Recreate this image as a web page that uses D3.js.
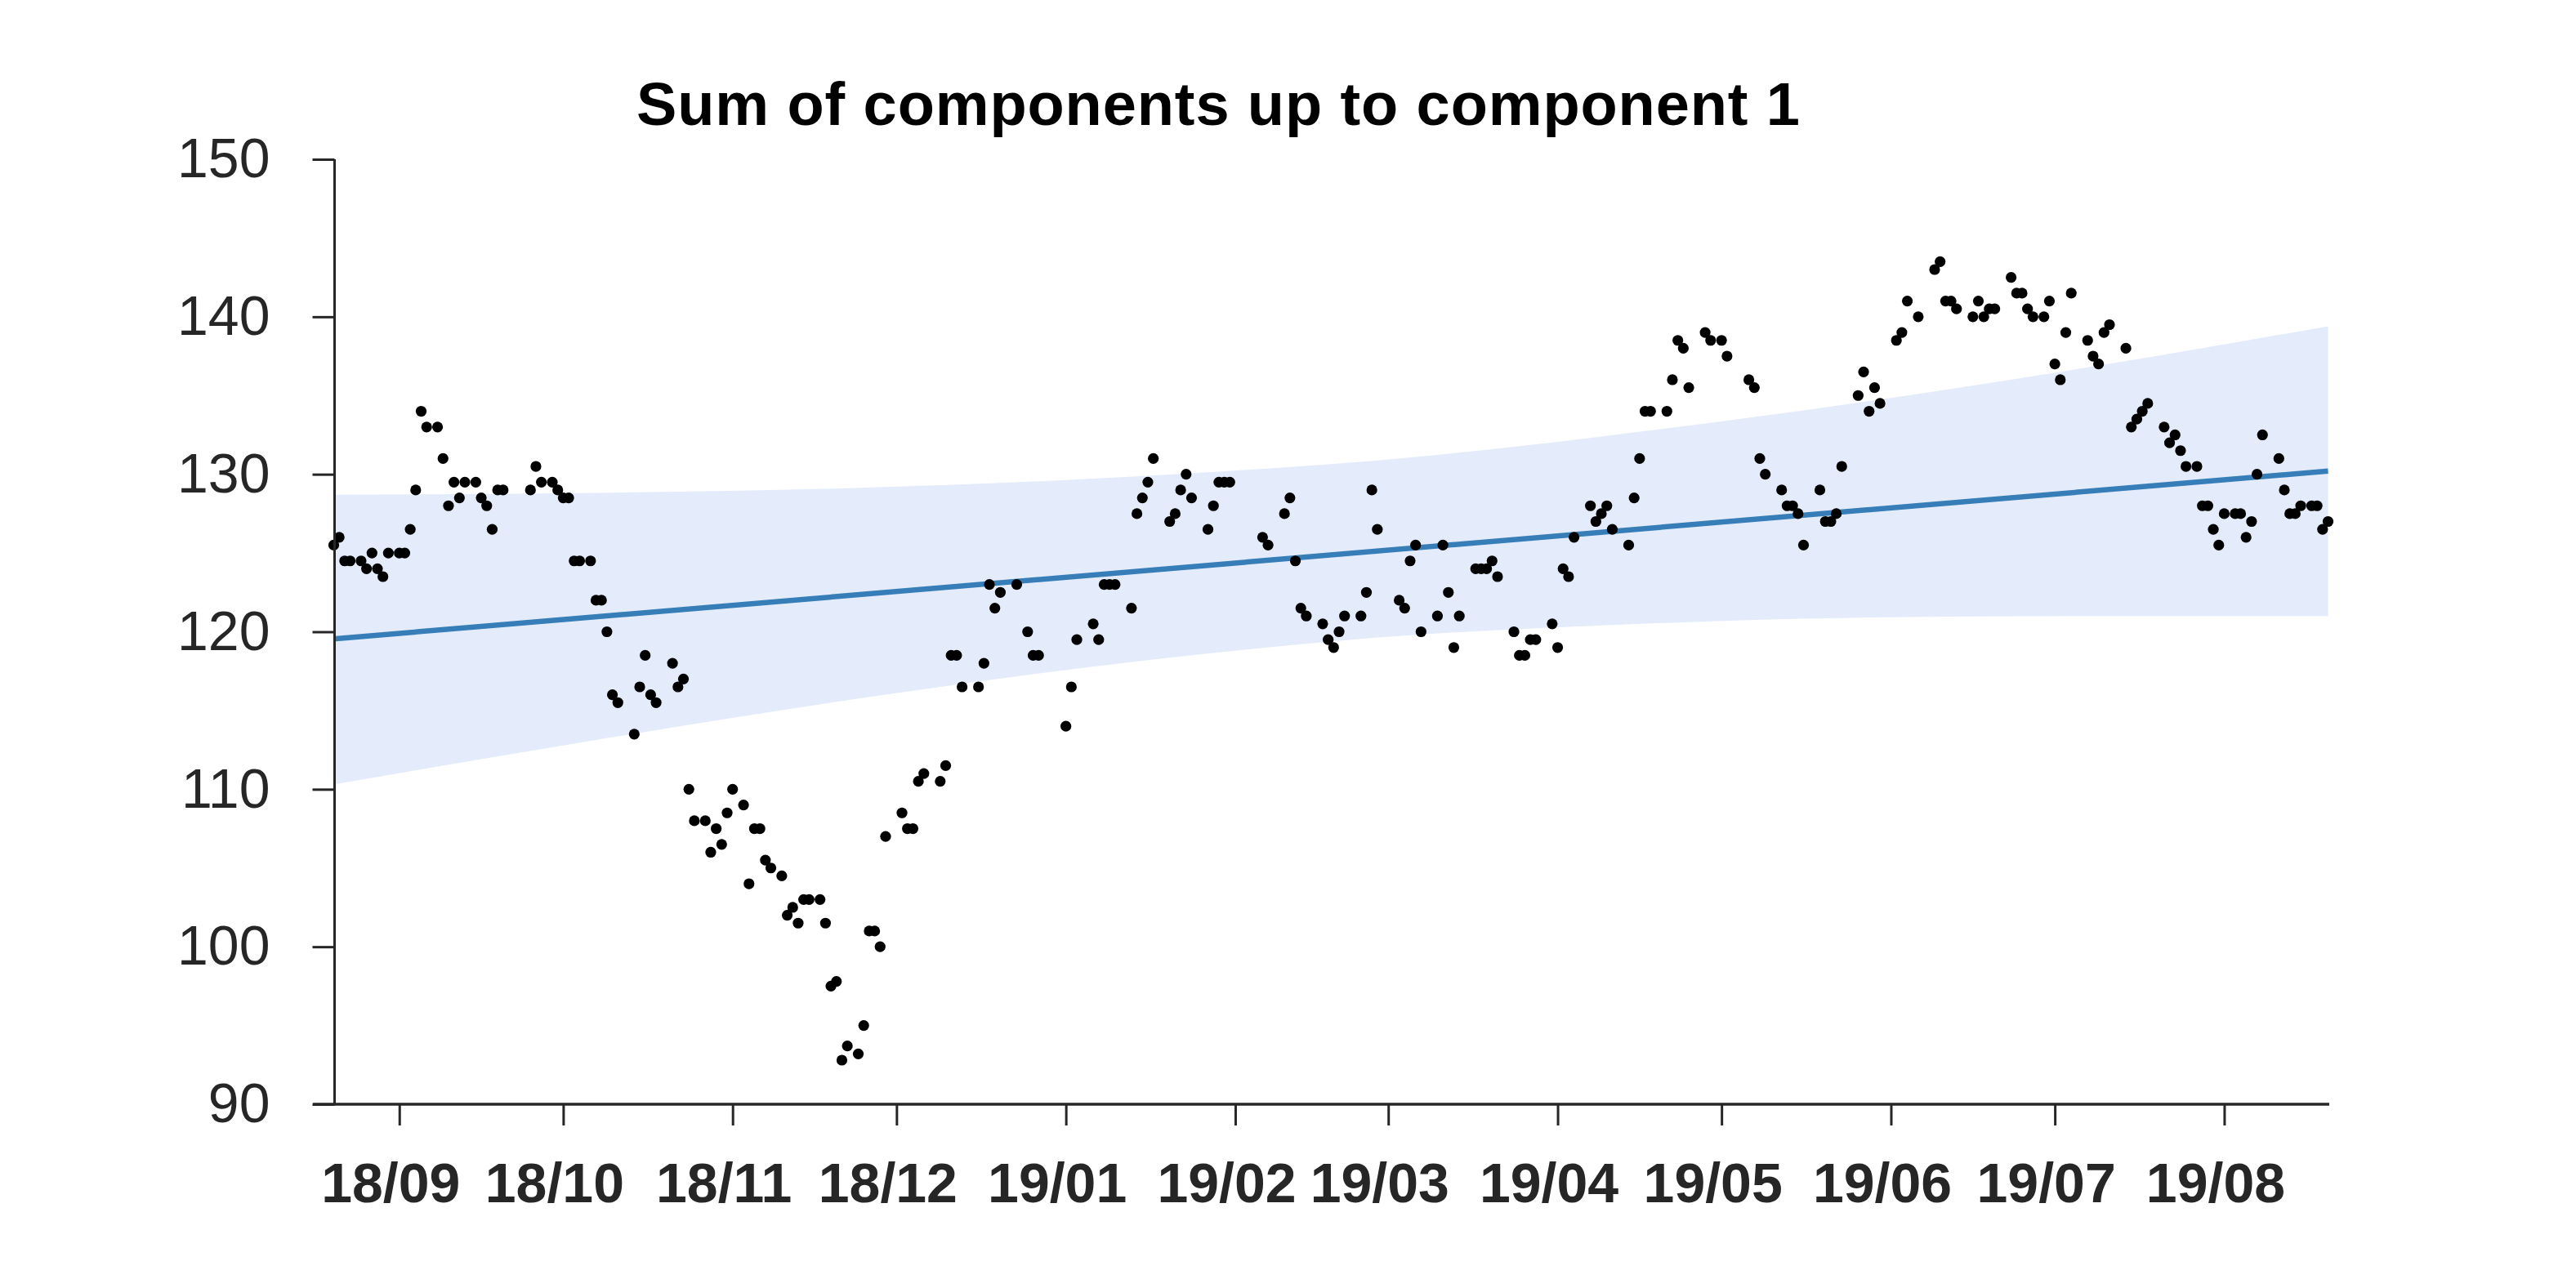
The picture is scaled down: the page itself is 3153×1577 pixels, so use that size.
<!DOCTYPE html>
<html><head><meta charset="utf-8">
<script src="https://cdn.jsdelivr.net/npm/d3@7"></script>
<style>html,body{margin:0;padding:0;background:#fff;}</style>
</head><body>
<svg id="chart" width="3153" height="1577"></svg>
<script>
const chartTitle = "Sum of components up to component 1";

const dates = [
"2018-08-20","2018-08-21","2018-08-22","2018-08-23","2018-08-25","2018-08-26","2018-08-27","2018-08-28","2018-08-29","2018-08-30",
"2018-09-01","2018-09-02","2018-09-03","2018-09-04","2018-09-05","2018-09-06","2018-09-08","2018-09-09","2018-09-10","2018-09-11",
"2018-09-12","2018-09-13","2018-09-15","2018-09-16","2018-09-17","2018-09-18","2018-09-19","2018-09-20","2018-09-25","2018-09-26",
"2018-09-27","2018-09-29","2018-09-30","2018-10-01","2018-10-02","2018-10-03","2018-10-04","2018-10-06","2018-10-07","2018-10-08",
"2018-10-09","2018-10-10","2018-10-11","2018-10-14","2018-10-15","2018-10-16","2018-10-17","2018-10-18","2018-10-21","2018-10-22",
"2018-10-23","2018-10-24","2018-10-25","2018-10-27","2018-10-28","2018-10-29","2018-10-30","2018-10-31","2018-11-01","2018-11-03",
"2018-11-04","2018-11-05","2018-11-06","2018-11-07","2018-11-08","2018-11-10","2018-11-11","2018-11-12","2018-11-13","2018-11-14",
"2018-11-15","2018-11-17","2018-11-18","2018-11-19","2018-11-20","2018-11-21","2018-11-22","2018-11-24","2018-11-25","2018-11-26",
"2018-11-27","2018-11-28","2018-11-29","2018-12-02","2018-12-03","2018-12-04","2018-12-05","2018-12-06","2018-12-09","2018-12-10",
"2018-12-11","2018-12-12","2018-12-13","2018-12-16","2018-12-17","2018-12-18","2018-12-19","2018-12-20","2018-12-23","2018-12-25",
"2018-12-26","2018-12-27","2019-01-01","2019-01-02","2019-01-03","2019-01-06","2019-01-07","2019-01-08","2019-01-09","2019-01-10",
"2019-01-13","2019-01-14","2019-01-15","2019-01-16","2019-01-17","2019-01-20","2019-01-21","2019-01-22","2019-01-23","2019-01-24",
"2019-01-27","2019-01-28","2019-01-29","2019-01-30","2019-01-31","2019-02-06","2019-02-07","2019-02-10","2019-02-11","2019-02-12",
"2019-02-13","2019-02-14","2019-02-17","2019-02-18","2019-02-19","2019-02-20","2019-02-21","2019-02-24","2019-02-25","2019-02-26",
"2019-02-27","2019-03-03","2019-03-04","2019-03-05","2019-03-06","2019-03-07","2019-03-10","2019-03-11","2019-03-12","2019-03-13",
"2019-03-14","2019-03-17","2019-03-18","2019-03-19","2019-03-20","2019-03-21","2019-03-24","2019-03-25","2019-03-26","2019-03-27",
"2019-03-28","2019-03-31","2019-04-01","2019-04-02","2019-04-03","2019-04-04","2019-04-07","2019-04-08","2019-04-09","2019-04-10",
"2019-04-11","2019-04-14","2019-04-15","2019-04-16","2019-04-17","2019-04-18","2019-04-21","2019-04-22","2019-04-23","2019-04-24",
"2019-04-25","2019-04-28","2019-04-29","2019-05-01","2019-05-02","2019-05-06","2019-05-07","2019-05-08","2019-05-09","2019-05-12",
"2019-05-13","2019-05-14","2019-05-15","2019-05-16","2019-05-19","2019-05-20","2019-05-21","2019-05-22","2019-05-23","2019-05-26",
"2019-05-27","2019-05-28","2019-05-29","2019-05-30","2019-06-02","2019-06-03","2019-06-04","2019-06-06","2019-06-09","2019-06-10",
"2019-06-11","2019-06-12","2019-06-13","2019-06-16","2019-06-17","2019-06-18","2019-06-19","2019-06-20","2019-06-23","2019-06-24",
"2019-06-25","2019-06-26","2019-06-27","2019-06-29","2019-06-30","2019-07-01","2019-07-02","2019-07-03","2019-07-04","2019-07-07",
"2019-07-08","2019-07-09","2019-07-10","2019-07-11","2019-07-14","2019-07-15","2019-07-16","2019-07-17","2019-07-18","2019-07-21",
"2019-07-22","2019-07-23","2019-07-24","2019-07-25","2019-07-27","2019-07-28","2019-07-29","2019-07-30","2019-07-31","2019-08-01",
"2019-08-03","2019-08-04","2019-08-05","2019-08-06","2019-08-07","2019-08-08","2019-08-11","2019-08-12","2019-08-13","2019-08-14",
"2019-08-15","2019-08-17","2019-08-18","2019-08-19","2019-08-20"
];

const values = [
125.5,126,124.5,124.5,124.5,124,125,124,123.5,125,
125,125,126.5,129,134,133,133,131,128,129.5,
128.5,129.5,129.5,128.5,128,126.5,129,129,129,130.5,
129.5,129.5,129,128.5,128.5,124.5,124.5,124.5,122,122,
120,116,115.5,113.5,116.5,118.5,116,115.5,118,116.5,
117,110,108,108,106,107.5,106.5,108.5,110,109,
104,107.5,107.5,105.5,105,104.5,102,102.5,101.5,103,
103,103,101.5,97.5,97.8,92.8,93.7,93.2,95,101,
101,100,107,108.5,107.5,107.5,110.5,111,110.5,111.5,
118.5,118.5,116.5,116.5,118,123,121.5,122.5,123,120,
118.5,118.5,114,116.5,119.5,120.5,119.5,123,123,123,
121.5,127.5,128.5,129.5,131,127,127.5,129,130,128.5,
126.5,128,129.5,129.5,129.5,126,125.5,127.5,128.5,124.5,
121.5,121,120.5,119.5,119,120,121,121,122.5,129,
126.5,122,121.5,124.5,125.5,120,121,125.5,122.5,119,
121,124,124,124,124.5,123.5,120,118.5,118.5,119.5,
119.5,120.5,119,124,123.5,126,128,127,127.5,128,
126.5,125.5,128.5,131,134,134,134,136,138.5,138,
135.5,139,138.5,138.5,137.5,136,135.5,131,130,129,
128,128,127.5,125.5,129,127,127,127.5,130.5,135,
136.5,134,135.5,134.5,138.5,139,141,140,143,143.5,
141,141,140.5,140,141,140,140.5,140.5,142.5,141.5,
141.5,140.5,140,140,141,137,136,139,141.5,138.5,
137.5,137,139,139.5,138,133,133.5,134,134.5,133,
132,132.5,131.5,130.5,130.5,128,128,126.5,125.5,127.5,
127.5,127.5,126,127,130,132.5,131,129,127.5,127.5,
128,128,128,126.5,127
];

const trendDates = ["2018-08-20", "2019-08-20"];
const trendValues = [119.55, 130.2];

const bandDates = ["2018-08-20","2018-10-03","2018-11-21","2019-01-16","2019-03-06","2019-04-09","2019-05-27","2019-07-09","2019-08-20"];
const bandUpper = [128.7, 128.8, 129.1, 129.9, 131.1, 132.4, 134.6, 136.9, 139.4];
const bandLower = [110.3, 112.9, 115.6, 118.2, 119.8, 120.4, 120.9, 121.0, 121.0];

const yTicks = [90, 100, 110, 120, 130, 140, 150];
const xTickDates = ["2018-09-01","2018-10-01","2018-11-01","2018-12-01","2019-01-01","2019-02-01","2019-03-01","2019-04-01","2019-05-01","2019-06-01","2019-07-01","2019-08-01"];
const xTickLabels = ["18/09","18/10","18/11","18/12","19/01","19/02","19/03","19/04","19/05","19/06","19/07","19/08"];

const parse = d3.timeParse("%Y-%m-%d");
const svg = d3.select("#chart");
const axisColor = "#262626";
const font = "'Liberation Sans', Arial, Helvetica, sans-serif";

const x = d3.scaleTime()
  .domain([parse("2018-08-20"), parse("2019-08-20")])
  .range([408.5, 2849.5]);
const y = d3.scaleLinear().domain([90, 150]).range([1352, 195]);

svg.append("rect").attr("width", 3153).attr("height", 1577).attr("fill", "#fff");

// confidence band
const bandData = bandDates.map((d, i) => ({ date: parse(d), lo: bandLower[i], hi: bandUpper[i] }));
svg.append("path")
  .datum(bandData)
  .attr("fill", "#e4ecfb")
  .attr("stroke", "none")
  .attr("d", d3.area().curve(d3.curveMonotoneX)
    .x(d => x(d.date)).y0(d => y(d.lo)).y1(d => y(d.hi)));

// trend line
const trendData = trendDates.map((d, i) => ({ date: parse(d), v: trendValues[i] }));
svg.append("path")
  .datum(trendData)
  .attr("fill", "none")
  .attr("stroke", "#377eb8")
  .attr("stroke-width", 6.5)
  .attr("d", d3.line().x(d => x(d.date)).y(d => y(d.v)));

// dots
const points = dates.map((d, i) => ({ date: parse(d), v: values[i] }));
svg.append("g").selectAll("circle").data(points).join("circle")
  .attr("cx", d => x(d.date))
  .attr("cy", d => y(d.v))
  .attr("r", 6.6)
  .attr("fill", "#000");

// y axis
const yAxis = svg.append("g")
  .attr("transform", "translate(409.5,0)")
  .call(d3.axisLeft(y).tickValues(yTicks).tickSize(27).tickPadding(52).tickFormat(d3.format("d")));
yAxis.select(".domain").remove();
yAxis.selectAll(".tick line").attr("stroke", axisColor).attr("stroke-width", 3);
yAxis.selectAll(".tick text")
  .attr("fill", axisColor)
  .style("font-family", font)
  .style("font-size", "68px");
svg.append("line")
  .attr("x1", 409.5).attr("x2", 409.5).attr("y1", 195).attr("y2", 1352)
  .attr("stroke", axisColor).attr("stroke-width", 3);

// x axis
const xAxis = svg.append("g")
  .attr("transform", "translate(0,1352)")
  .call(d3.axisBottom(x).tickValues(xTickDates.map(parse)).tickSize(26).tickPadding(46)
    .tickFormat((d, i) => xTickLabels[i]));
xAxis.select(".domain").remove();
xAxis.selectAll(".tick line").attr("stroke", axisColor).attr("stroke-width", 3);
xAxis.selectAll(".tick text")
  .attr("fill", axisColor)
  .attr("dx", -11)
  .style("font-family", font)
  .style("font-weight", "bold")
  .style("font-size", "68px");
svg.append("line")
  .attr("x1", 383).attr("x2", 2851).attr("y1", 1352).attr("y2", 1352)
  .attr("stroke", axisColor).attr("stroke-width", 3.5);

// title
svg.append("text")
  .attr("x", 779).attr("y", 153)
  .attr("fill", "#000")
  .attr("textLength", 1424)
  .attr("lengthAdjust", "spacing")
  .style("font-family", font)
  .style("font-weight", "bold")
  .style("font-size", "74px")
  .text(chartTitle);
</script>
</body></html>
